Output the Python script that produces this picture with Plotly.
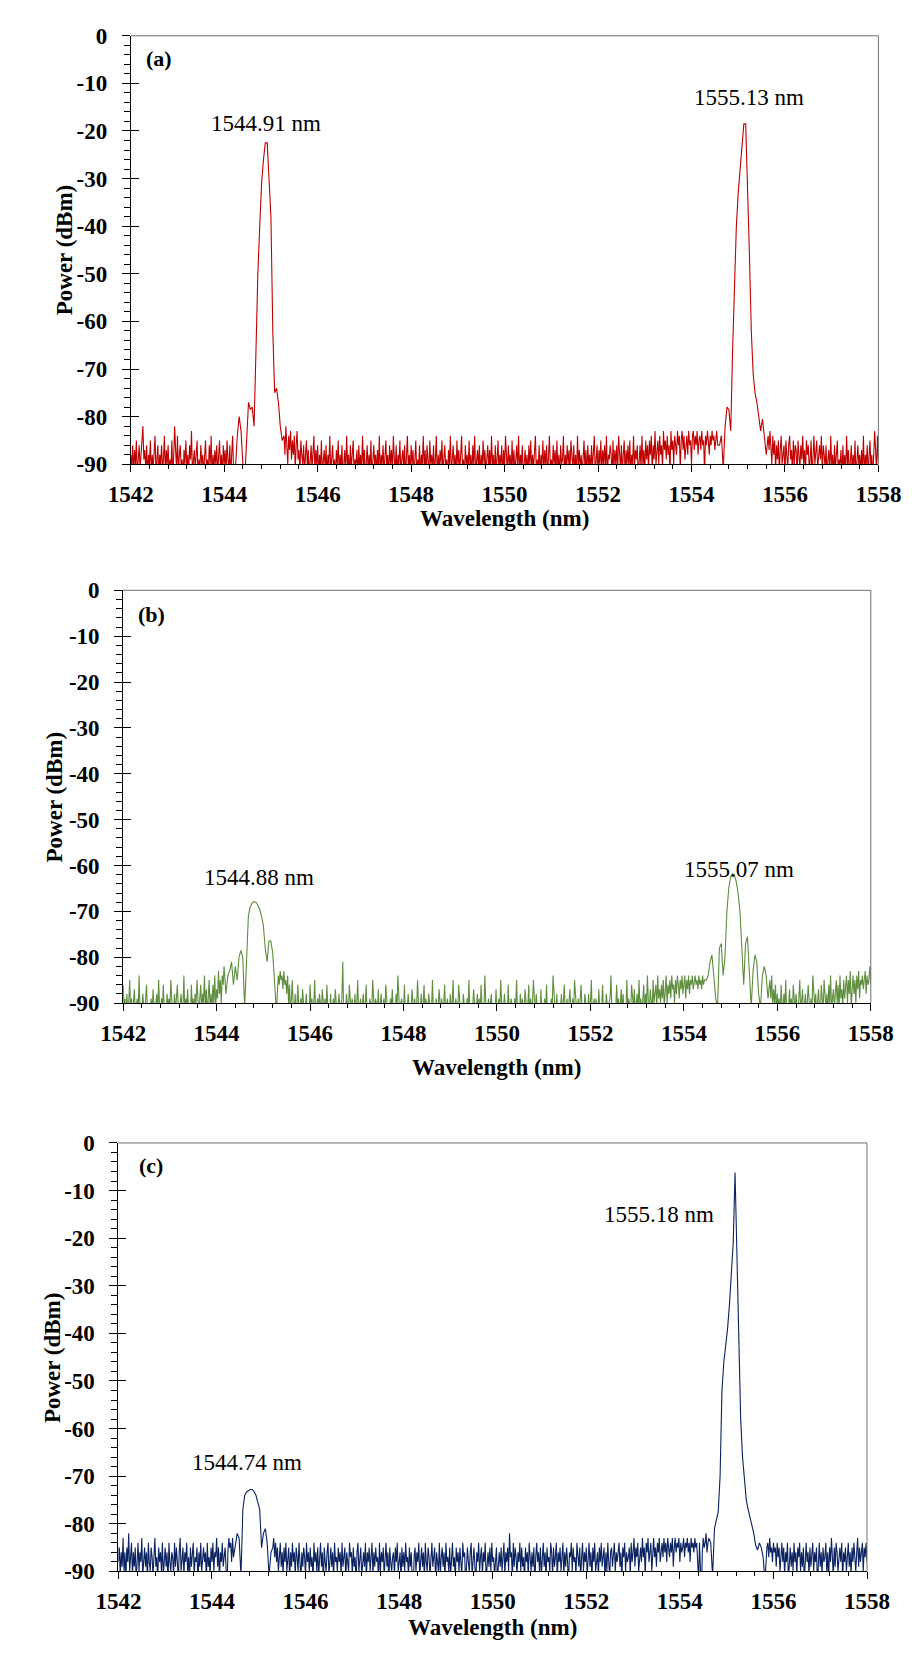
import numpy as np
import plotly.graph_objects as go

X_TICKS = [1542, 1544, 1546, 1548, 1550, 1552, 1554, 1556, 1558]
Y_TICKS = [0, -10, -20, -30, -40, -50, -60, -70, -80, -90]

# ---------------- Panel (a) : red ----------------
# wavelength span (start, end) of each measured segment
a_spans = [(1542.00, 1544.20), (1544.24, 1545.24), (1545.28, 1554.56), (1554.60, 1555.60), (1555.64, 1558.00)]
a_noise_left = [-88,-91,-86,-92,-87,-90,-85,-93,-89,-86,
                -91,-88,-84,-82,-89,-87,-91,-86,-93,-88,
                -90,-85,-92,-88,-91,-87,-84,-92,-89,-86,
                -93,-88,-90,-86,-91,-89,-84,-92,-87,-90,
                -86,-92,-89,-91,-85,-93,-88,-82,-87,-91,
                -84,-92,-88,-86,-91,-89,-93,-87,-90,-85,
                -91,-88,-92,-86,-89,-83,-92,-90,-87,-91,
                -88,-85,-93,-89,-91,-86,-90,-88,-92,-87,
                -85,-91,-89,-92,-86,-90,-84,-93,-88,-91,
                -87,-90,-86,-92,-89,-85,-91,-88,-93,-86,
                -90,-87,-92,-85,-89,-91,-86,-93,-88,-84,
                -91]
a_peak1 = [-91,-84,-80,-83,-90,-93,-84,-77,-78.5,-78,-82,-62,-50,-40,-31,-26,
           -22.5,-22.5,-29,-38,-62,-75,-74,-77,-82,-85]
a_noise_mid = [-84,-88,-82,-86,-90,-84,-87,-83,-89,-85,
               -88,-84,-91,-86,-83,-89,-87,-92,-85,-88,
               -90,-86,-92,-88,-85,-91,-87,-93,-89,-86,
               -91,-88,-84,-92,-87,-90,-86,-93,-88,-91,
               -85,-92,-89,-87,-91,-86,-93,-88,-90,-84,
               -92,-88,-86,-91,-89,-93,-87,-90,-85,-92,
               -88,-91,-86,-93,-89,-87,-92,-84,-90,-88,
               -93,-86,-91,-88,-85,-92,-89,-90,-87,-93,
               -86,-91,-88,-92,-84,-90,-87,-93,-89,-86,
               -92,-88,-91,-85,-93,-89,-86,-90,-88,-92,
               -87,-91,-84,-93,-88,-90,-86,-92,-89,-85,
               -91,-88,-93,-86,-90,-87,-92,-84,-89,-91,
               -86,-93,-88,-90,-85,-92,-89,-87,-91,-86,
               -93,-89,-84,-91,-88,-92,-86,-90,-87,-93,
               -88,-85,-92,-89,-91,-86,-93,-88,-90,-84,
               -91,-87,-93,-86,-89,-92,-85,-90,-88,-91,
               -86,-92,-89,-84,-93,-88,-91,-87,-90,-85,
               -92,-88,-86,-91,-89,-93,-87,-90,-84,-92,
               -89,-86,-91,-88,-93,-85,-90,-87,-92,-88,
               -84,-91,-89,-93,-86,-90,-88,-92,-85,-91,
               -88,-93,-86,-90,-84,-92,-89,-87,-91,-86,
               -93,-88,-91,-85,-90,-87,-92,-89,-86,-91,
               -87,-92,-84,-90,-88,-93,-86,-91,-89,-85,
               -92,-88,-90,-86,-93,-87,-91,-84,-89,-92,
               -86,-90,-88,-93,-85,-91,-87,-92,-89,-86,
               -91,-84,-92,-88,-90,-86,-93,-89,-87,-91,
               -88,-93,-86,-90,-85,-92,-88,-91,-87,-84,
               -92,-89,-91,-86,-93,-88,-90,-85,-92,-87,
               -90,-86,-93,-88,-84,-91,-89,-92,-86,-90,
               -87,-92,-85,-91,-88,-93,-86,-90,-89,-84,
               -93,-88,-91,-86,-90,-87,-92,-85,-89,-91,
               -86,-92,-88,-93,-84,-90,-87,-91,-88,-92,
               -89,-85,-91,-87,-93,-86,-90,-88,-92,-86,
               -91,-88,-84,-92,-89,-86,-93,-87,-90,-85,
               -92,-87,-90,-86,-91,-84,-93,-88,-89,-86,
               -88,-93,-85,-91,-87,-90,-86,-92,-84,-89,
               -91,-86,-92,-88,-85,-93,-87,-90,-86,-91,
               -85,-92,-88,-90,-84,-91,-87,-89,-86,-93,
               -88,-86,-91,-84,-90,-87,-92,-85,-89,-86,
               -91,-85,-88,-84,-92,-86,-89,-83,-90,-87,
               -85,-90,-84,-88,-86,-91,-83,-87,-85,-89,
               -84,-88,-86,-92,-83,-87,-85,-90,-84,-86,
               -88,-83,-86,-84,-91,-85,-83,-87,-84,-89,
               -85,-84,-88,-83,-86,-85,-90,-84,-83,-87,
               -84,-86,-83,-88,-85,-84,-87,-83,-86,-85,
               -92,-84,-86,-83,-85,-88,-84,-86,-83,-85,
               -84,-87,-85,-83,-86]
a_peak2 = [-86,-84,-91,-82,-78,-78.5,-83,-66,-50,-40,-33,-28,-23,-18.5,-18.5,-30,
           -46,-62,-71,-75,-77,-80,-83,-80.5,-85,-88]
a_noise_right = [-84,-87,-83,-86,-90,-84,-88,-85,-91,-86,
                 -89,-85,-92,-87,-84,-90,-88,-86,-93,-85,
                 -88,-91,-86,-84,-89,-87,-92,-85,-90,-86,
                 -87,-93,-85,-88,-91,-86,-89,-84,-90,-87,
                 -92,-85,-88,-86,-91,-89,-85,-93,-86,-84,
                 -90,-87,-85,-91,-88,-86,-89,-84,-92,-86,
                 -88,-91,-86,-93,-89,-87,-92,-84,-90,-88,
                 -93,-86,-91,-88,-85,-92,-89,-90,-87,-93,
                 -86,-91,-88,-92,-84,-90,-87,-93,-89,-86,
                 -92,-88,-91,-85,-93,-89,-86,-90,-88,-92,
                 -87,-91,-84,-93,-88,-90,-86,-92,-89,-85,
                 -91,-88,-93,-86,-83,-87,-92,-84,-89]

# ---------------- Panel (b) : green ----------------
b_spans = [(1542.00, 1544.16), (1544.20, 1545.28), (1545.32, 1554.44), (1554.48, 1555.80), (1555.84, 1558.00)]
b_noise_left = [-86,-91,-89,-93,-88,-92,-90,-85,-92,-89,
                -93,-90,-87,-92,-91,-89,-93,-84,-91,-90,
                -92,-88,-91,-93,-89,-86,-92,-90,-93,-91,
                -89,-92,-87,-91,-93,-90,-88,-92,-85,-91,
                -93,-89,-91,-86,-92,-90,-93,-88,-91,-89,
                -92,-85,-90,-93,-91,-88,-92,-89,-86,-91,
                -93,-90,-88,-92,-91,-84,-93,-89,-91,-87,
                -92,-90,-93,-86,-91,-89,-92,-88,-90,-85,
                -91,-93,-89,-86,-92,-88,-90,-84,-91,-87,
                -93,-89,-85,-91,-88,-92,-86,-90,-84,-91,
                -87,-89,-83,-88,-85,-90,-84,-86,-82]
b_peak1 = [-88,-84,-83,-81,-86,-82,-85,-80,-78.5,-80,-91,-80,-71,-69,-68.2,-67.9,
           -68,-68.6,-69.5,-71,-73,-78,-81,-76.5,-76.5,-79,-86,-92]
b_noise_mid = [-84,-86,-83,-85,-84,-87,-83,-86,-85,-88,
               -84,-90,-86,-92,-89,-85,-91,-93,-88,-92,
               -90,-86,-93,-91,-89,-92,-87,-90,-93,-91,
               -88,-92,-90,-93,-86,-91,-89,-92,-90,-85,
               -93,-91,-89,-92,-88,-90,-93,-87,-91,-92,
               -89,-93,-86,-91,-90,-92,-88,-93,-91,-89,
               -92,-87,-90,-93,-91,-88,-92,-90,-89,-81,
               -93,-90,-92,-88,-91,-93,-86,-90,-92,-89,
               -91,-93,-88,-92,-90,-85,-93,-91,-89,-92,
               -90,-88,-93,-91,-86,-92,-90,-93,-89,-91,
               -92,-85,-91,-93,-89,-90,-92,-87,-93,-90,
               -88,-92,-91,-89,-93,-86,-90,-92,-91,-93,
               -89,-91,-87,-92,-90,-93,-88,-91,-84,-92,
               -93,-90,-89,-91,-92,-86,-93,-90,-91,-88,
               -92,-91,-93,-87,-90,-92,-89,-93,-91,-85,
               -90,-93,-91,-88,-92,-90,-86,-93,-89,-91,
               -92,-88,-90,-93,-91,-85,-92,-90,-93,-89,
               -91,-93,-87,-90,-92,-89,-93,-91,-86,-92,
               -90,-89,-92,-93,-88,-91,-90,-85,-93,-92,
               -89,-91,-93,-86,-90,-92,-91,-93,-88,-90,
               -93,-92,-89,-91,-85,-93,-90,-92,-91,-87,
               -90,-93,-91,-88,-92,-89,-93,-86,-91,-90,
               -92,-84,-90,-93,-91,-89,-92,-90,-88,-93,
               -91,-90,-92,-87,-93,-91,-89,-92,-85,-90,
               -93,-91,-88,-92,-90,-93,-86,-91,-92,-89,
               -90,-92,-93,-89,-91,-85,-92,-90,-93,-88,
               -92,-89,-91,-93,-87,-90,-92,-91,-86,-93,
               -89,-91,-90,-85,-92,-93,-88,-91,-90,-92,
               -93,-87,-92,-90,-91,-89,-93,-86,-92,-90,
               -91,-93,-89,-92,-84,-90,-91,-93,-88,-92,
               -90,-92,-91,-88,-93,-90,-86,-92,-91,-89,
               -93,-90,-87,-91,-92,-89,-93,-85,-90,-91,
               -92,-89,-93,-90,-86,-92,-91,-93,-88,-90,
               -91,-93,-88,-92,-90,-85,-93,-91,-89,-92,
               -89,-91,-93,-87,-92,-90,-91,-86,-93,-90,
               -92,-88,-91,-93,-90,-89,-84,-92,-91,-93,
               -90,-92,-86,-91,-89,-93,-90,-87,-92,-88,
               -93,-90,-91,-85,-92,-89,-91,-93,-86,-90,
               -91,-87,-93,-90,-88,-92,-85,-91,-89,-93,
               -90,-86,-92,-88,-91,-84,-90,-93,-87,-89,
               -92,-85,-90,-88,-86,-91,-84,-89,-87,-90,
               -86,-89,-85,-91,-87,-84,-90,-86,-88,-85,
               -89,-84,-87,-86,-90,-85,-88,-84,-86,-89,
               -85,-87,-84,-88,-86,-84,-89,-85,-87,-84,
               -88,-85,-86,-84,-87,-85,-84,-86,-85,-87,
               -84,-86,-85,-87,-84,-86,-85]
b_peak2 = [-85,-84,-81,-79.5,-84,-89,-91,-78,-77,-84,-80,-70,-65,-62.5,-61.8,-62,
           -63.5,-66,-70,-80,-86,-77,-75.5,-83,-91,-83,-79.5,-81,-88,-91,-84,-82,-84,-89]
b_noise_right = [-85,-89,-84,-91,-87,-90,-86,-92,-88,-91,
                 -89,-93,-86,-90,-92,-88,-91,-85,-93,-90,
                 -92,-87,-91,-89,-93,-86,-90,-92,-88,-91,
                 -93,-89,-85,-92,-90,-87,-93,-91,-88,-92,
                 -90,-86,-91,-93,-89,-92,-84,-90,-91,-88,
                 -92,-90,-87,-91,-93,-86,-89,-92,-85,-90,
                 -91,-88,-93,-86,-90,-84,-92,-89,-87,-91,
                 -88,-85,-90,-86,-92,-84,-89,-87,-91,-85,
                 -89,-86,-84,-90,-85,-88,-83,-91,-86,-84,
                 -88,-85,-90,-84,-87,-83,-89,-85,-86,-84,
                 -87,-85,-83,-88,-84,-86,-85,-82,-86]

# ---------------- Panel (c) : navy ----------------
c_spans = [(1541.98, 1544.46), (1544.50, 1545.26), (1545.30, 1554.62), (1554.66, 1555.82), (1555.86, 1558.02)]
c_noise_left = [-84,-88,-85,-91,-86,-89,-83,-90,-86,-92,
                -85,-88,-82,-90,-87,-84,-91,-86,-89,-85,
                -92,-87,-84,-90,-86,-88,-83,-91,-87,-85,
                -89,-86,-92,-84,-88,-90,-85,-87,-91,-86,
                -83,-89,-87,-92,-85,-88,-86,-90,-84,-91,
                -87,-85,-89,-86,-93,-84,-88,-90,-86,-87,
                -91,-84,-89,-85,-88,-92,-86,-83,-90,-87,
                -85,-91,-86,-88,-84,-90,-87,-92,-85,-89,
                -86,-84,-91,-87,-88,-85,-93,-86,-89,-84,
                -90,-87,-85,-88,-86,-92,-84,-89,-87,-91,
                -85,-88,-84,-90,-86,-87,-83,-89,-85,-92,
                -86,-88,-84,-89,-87,-85,-89,-95,-86,-83,
                -85,-84,-88,-83,-87]
c_peak1 = [-84,-82,-83,-91,-77,-74,-73.3,-73,-72.8,-72.8,-73.2,-74,-75.5,-77,-85,-82,
           -81,-84,-91,-86]
c_noise_mid = [-85,-83,-87,-84,-88,-85,-90,-86,-84,-89,
               -86,-91,-85,-88,-84,-90,-87,-85,-92,-86,
               -89,-84,-88,-86,-91,-85,-87,-90,-84,-88,
               -92,-86,-89,-85,-87,-91,-84,-88,-86,-90,
               -85,-89,-87,-92,-84,-88,-86,-90,-85,-91,
               -87,-84,-89,-86,-93,-85,-88,-90,-86,-84,
               -91,-87,-85,-89,-86,-92,-84,-88,-87,-90,
               -85,-88,-86,-91,-84,-89,-87,-85,-92,-86,
               -88,-90,-84,-87,-86,-91,-85,-89,-87,-93,
               -86,-84,-90,-88,-85,-91,-87,-86,-89,-84,
               -92,-86,-88,-85,-90,-87,-84,-91,-86,-89,
               -85,-88,-87,-92,-84,-90,-86,-88,-85,-91,
               -87,-84,-89,-86,-93,-85,-88,-90,-87,-86,
               -91,-85,-88,-84,-90,-87,-86,-92,-85,-89,
               -86,-90,-84,-88,-87,-91,-85,-89,-86,-92,
               -95,-87,-85,-90,-86,-88,-84,-91,-87,-85,
               -89,-86,-92,-84,-88,-90,-85,-87,-91,-86,
               -84,-89,-87,-85,-93,-86,-88,-90,-84,-91,
               -87,-85,-89,-86,-92,-84,-88,-87,-90,-85,
               -91,-86,-84,-89,-87,-92,-85,-88,-86,-90,
               -85,-88,-91,-84,-87,-86,-93,-89,-85,-88,
               -90,-86,-84,-91,-87,-85,-89,-92,-86,-88,
               -84,-90,-87,-85,-91,-86,-88,-84,-92,-87,
               -86,-89,-85,-90,-84,-88,-87,-91,-86,-85,
               -92,-88,-86,-89,-85,-90,-87,-84,-91,-86,
               -88,-85,-90,-82,-87,-86,-92,-84,-89,-85,
               -87,-91,-86,-88,-84,-90,-85,-89,-87,-92,
               -85,-88,-86,-91,-84,-87,-90,-86,-89,-85,
               -93,-87,-84,-88,-86,-90,-85,-91,-87,-84,
               -89,-86,-92,-85,-88,-87,-90,-84,-86,-91,
               -85,-89,-87,-84,-92,-86,-88,-85,-90,-87,
               -84,-91,-86,-89,-85,-88,-93,-86,-87,-84,
               -90,-85,-88,-87,-91,-84,-86,-89,-85,-92,
               -87,-84,-90,-86,-88,-85,-91,-87,-84,-89,
               -86,-92,-85,-88,-84,-90,-87,-86,-91,-85,
               -88,-84,-89,-87,-85,-92,-86,-90,-84,-88,
               -91,-86,-85,-89,-87,-84,-90,-86,-88,-85,
               -84,-89,-86,-92,-85,-87,-84,-90,-86,-88,
               -87,-85,-91,-84,-88,-86,-83,-89,-85,-87,
               -84,-90,-86,-85,-88,-83,-87,-85,-91,-84,
               -86,-83,-88,-85,-84,-90,-86,-83,-87,-85,
               -89,-84,-86,-83,-88,-85,-84,-87,-83,-86,
               -84,-88,-83,-85,-87,-84,-86,-83,-89,-85,
               -83,-86,-84,-85,-83,-88,-84,-86,-85,-83,
               -87,-84,-85,-83,-86,-84,-88,-83,-85,-84,
               -86,-83,-85,-84,-87,-92,-84,-94,-95,-86,
               -83,-85,-84,-82,-86,-84,-83]
c_peak2 = [-84,-91,-81,-79,-77.5,-70,-52,-46,-42.5,-39,-34,-28.5,-21,-6.2,-24.8,-44,
           -58,-66,-71.5,-75,-77,-78.5,-80,-82,-84.5,-85.5,-84,-85,-87,-92]
c_noise_right = [-85,-84,-87,-83,-86,-85,-88,-84,-86,-85,
                 -89,-84,-87,-85,-90,-86,-84,-88,-85,-91,
                 -86,-88,-84,-92,-87,-85,-89,-86,-90,-84,
                 -88,-86,-91,-85,-87,-84,-90,-86,-89,-85,
                 -92,-87,-84,-88,-86,-91,-85,-89,-87,-84,
                 -90,-86,-88,-85,-93,-87,-84,-89,-86,-91,
                 -85,-88,-87,-84,-90,-86,-92,-85,-88,-83,
                 -87,-91,-85,-89,-84,-86,-90,-87,-85,-88,
                 -84,-92,-86,-88,-85,-90,-87,-84,-89,-86,
                 -91,-85,-88,-84,-87,-90,-86,-83,-89,-85,
                 -88,-86,-84,-90,-85,-87,-84,-88,-86]

# peak wavelength labels: (text, wavelength, power)
peak_labels = {
    "a": [("1544.91 nm", 1544.90, -18.4), ("1555.13 nm", 1555.23, -13.0)],
    "b": [("1544.88 nm", 1544.90, -62.6), ("1555.07 nm", 1555.17, -60.9)],
    "c": [("1544.74 nm", 1544.74, -67.2), ("1555.18 nm", 1553.56, -15.0)],
}
panel_tags = {"a": ("(a)", 1542.61, -4.8), "b": ("(b)", 1542.61, -5.2), "c": ("(c)", 1542.69, -4.8)}


def build(spans, segs):
    xs, ys = [], []
    for (s, e), seg in zip(spans, segs):
        xs.extend(np.linspace(s, e, len(seg)).tolist())
        ys.extend(seg)
    return xs, ys


W, H = 920, 1671
# pixel boxes of the three plot areas: left, right, top, bottom
boxes = {"a": (105, 892, 16, 451), "b": (97, 884, 579, 998), "c": (92, 880, 1140, 1575)}
colors = {"a": "#C00000", "b": "#5E8E3E", "c": "#0B2260"}
ytitle_x = {"a": 35, "b": 25, "c": 22}
xtitle_y = {"a": 506, "b": 1063, "c": 1632}

data = {
    "a": build(a_spans, [a_noise_left, a_peak1, a_noise_mid, a_peak2, a_noise_right]),
    "b": build(b_spans, [b_noise_left, b_peak1, b_noise_mid, b_peak2, b_noise_right]),
    "c": build(c_spans, [c_noise_left, c_peak1, c_noise_mid, c_peak2, c_noise_right]),
}

SERIF = "Liberation Serif"
FS = 23
fig = go.Figure()
layout = dict(width=W, height=H, margin=dict(l=0, r=0, t=0, b=0), autosize=False,
              paper_bgcolor="white", plot_bgcolor="white", showlegend=False)
annotations = []
shapes = []

for i, key in enumerate(["a", "b", "c"]):
    n = i + 1
    sfx = "" if n == 1 else str(n)
    l, r, t, b = boxes[key]
    xs, ys = data[key]
    fig.add_trace(go.Scatter(x=xs, y=ys, mode="lines",
                             line=dict(color=colors[key], width=1.1),
                             xaxis="x" + sfx, yaxis="y" + sfx, hoverinfo="skip"))
    # overlay axis for the inner half of the crossing major y ticks
    fig.add_trace(go.Scatter(x=[None], y=[None], mode="lines", xaxis="x" + sfx,
                             yaxis="y" + str(n + 3), hoverinfo="skip"))
    layout["xaxis" + sfx] = dict(
        domain=[l / W, r / W], anchor="y" + sfx, range=[1542, 1558],
        tickvals=X_TICKS, ticktext=[str(v) for v in X_TICKS],
        ticks="outside", ticklen=7, tickwidth=1, tickcolor="black",
        minor=dict(dtick=0.4, tick0=1542, ticks="outside", ticklen=4, tickcolor="black", tickwidth=1),
        showline=True, linecolor="black", linewidth=1, showgrid=False, zeroline=False,
        tickfont=dict(family=SERIF, size=FS, color="black", weight="bold"),
        ticklabelstandoff=2)
    layout["yaxis" + sfx] = dict(
        domain=[1 - b / H, 1 - t / H], anchor="x" + sfx, range=[-90, 0],
        tickvals=Y_TICKS, ticktext=[str(v) for v in Y_TICKS],
        ticks="outside", ticklen=8, tickwidth=1, tickcolor="black",
        minor=dict(dtick=2, tick0=0, ticks="outside", ticklen=6, tickcolor="black", tickwidth=1),
        showline=True, linecolor="black", linewidth=1, showgrid=False, zeroline=False,
        tickfont=dict(family=SERIF, size=FS, color="black", weight="bold"),
        ticklabelstandoff=10)
    layout["yaxis" + str(n + 3)] = dict(
        overlaying="y" + sfx, anchor="x" + sfx, side="left", range=[-90, 0],
        tickvals=Y_TICKS, ticks="inside", ticklen=8, tickwidth=1, tickcolor="black",
        showticklabels=False, showline=False, showgrid=False, zeroline=False)
    # grey top and right frame
    xd = "x" + sfx + " domain"
    yd = "y" + sfx + " domain"
    shapes.append(dict(type="line", xref=xd, yref=yd, x0=0, x1=1, y0=1, y1=1,
                       line=dict(color="#6f6f6f", width=1)))
    shapes.append(dict(type="line", xref=xd, yref=yd, x0=1, x1=1, y0=0, y1=1,
                       line=dict(color="#6f6f6f", width=1)))
    # peak labels
    for txt, px, py in peak_labels[key]:
        annotations.append(dict(text=txt, x=px, y=py, xref="x" + sfx, yref="y" + sfx,
                                xanchor="center", yanchor="middle", showarrow=False,
                                font=dict(family=SERIF, size=FS, color="black")))
    tg, tx, ty = panel_tags[key]
    annotations.append(dict(text=tg, x=tx, y=ty, xref="x" + sfx, yref="y" + sfx,
                            xanchor="center", yanchor="middle", showarrow=False,
                            font=dict(family=SERIF, size=22, color="black", weight="bold")))
    # axis titles
    annotations.append(dict(text="Wavelength (nm)", x=0.5, xref=xd, y=1 - xtitle_y[key] / H,
                            yref="paper", xanchor="center", yanchor="middle", showarrow=False,
                            font=dict(family=SERIF, size=FS, color="black", weight="bold")))
    annotations.append(dict(text="Power (dBm)", x=ytitle_x[key] / W, xref="paper",
                            y=1 - (t + b) / 2 / H, yref="paper", textangle=-90,
                            xanchor="center", yanchor="middle", showarrow=False,
                            font=dict(family=SERIF, size=FS, color="black", weight="bold")))

layout["annotations"] = annotations
layout["shapes"] = shapes
fig.update_layout(**layout)
fig.write_html("out.html")
